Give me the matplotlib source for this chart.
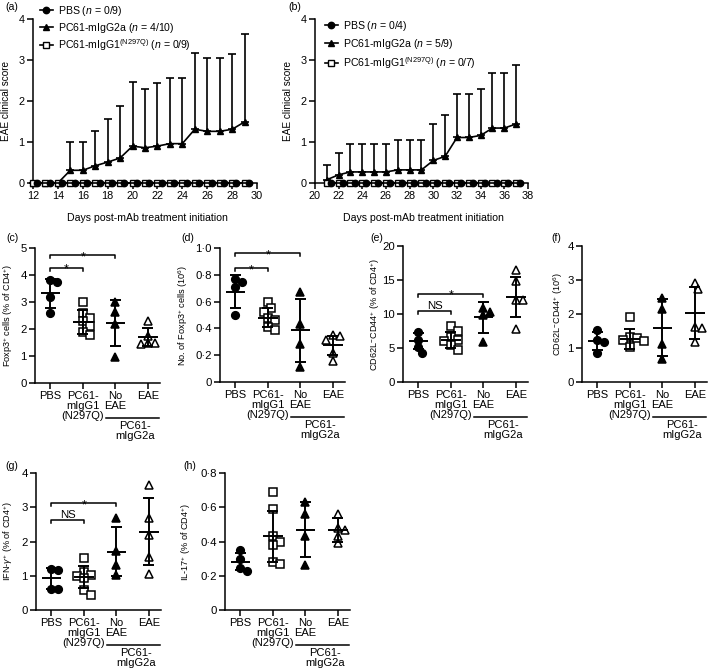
#!/usr/bin/env python3
"""EAE clinical scores and CD4 T-cell read-outs after PC61 antibody treatment."""

import matplotlib
matplotlib.use("Agg")
import matplotlib.pyplot as plt
from matplotlib.lines import Line2D
from matplotlib.ticker import FuncFormatter
import numpy as np

plt.rcParams["font.family"] = ["Liberation Sans", "DejaVu Sans"]
plt.rcParams["mathtext.fontset"] = "custom"
plt.rcParams["mathtext.rm"] = "Liberation Sans"
plt.rcParams["mathtext.it"] = "Liberation Sans:italic"
plt.rcParams["mathtext.bf"] = "Liberation Sans:bold"

# ---------------------------------------------------------------------------
# data
# ---------------------------------------------------------------------------

# (a) EAE course, experiment 1
a_days = list(range(12, 30))
a_pbs = [0, 0, 0, 0, 0, 0, 0, 0, 0, 0, 0, 0, 0, 0, 0, 0, 0, 0]
a_n297q = [0, 0, 0, 0, 0, 0, 0, 0, 0, 0, 0, 0, 0, 0, 0, 0, 0, 0]
a_g2a_mean = [0, 0, 0, 0.31, 0.31, 0.42, 0.51, 0.61, 0.90, 0.86, 0.90, 0.96,
              0.96, 1.31, 1.26, 1.26, 1.31, 1.49]
a_g2a_sd = [0, 0, 0, 0.69, 0.69, 0.84, 1.06, 1.27, 1.57, 1.43, 1.53, 1.61,
            1.61, 1.85, 1.78, 1.78, 1.83, 2.14]
a_labels = ["PBS ($n$ = 0/9)", "PC61-mIgG2a ($n$ = 4/10)",
            "PC61-mIgG1$^{\\mathrm{(N297Q)}}$ ($n$ = 0/9)"]

# (b) EAE course, experiment 2
b_days = list(range(21, 38))
b_pbs = [0, 0, 0, 0, 0, 0, 0, 0, 0, 0, 0, 0, 0, 0, 0, 0, 0]
b_n297q = [0, 0, 0, 0, 0, 0, 0, 0, 0, 0, 0, 0, 0, 0, 0, 0, 0]
b_g2a_mean = [0.08, 0.20, 0.27, 0.27, 0.27, 0.27, 0.32, 0.32, 0.32, 0.55,
              0.65, 1.11, 1.11, 1.16, 1.34, 1.34, 1.44]
b_g2a_sd = [0.37, 0.53, 0.68, 0.68, 0.68, 0.68, 0.72, 0.72, 0.72, 0.89,
            1.01, 1.05, 1.05, 1.13, 1.35, 1.35, 1.44]
b_labels = ["PBS ($n$ = 0/4)", "PC61-mIgG2a ($n$ = 5/9)",
            "PC61-mIgG1$^{\\mathrm{(N297Q)}}$ ($n$ = 0/7)"]

# lower panels: PBS, PC61-mIgG1(N297Q), PC61-mIgG2a no EAE, PC61-mIgG2a EAE
cat_labels = ["PBS", "PC61-\nmIgG1\n(N297Q)", "No\nEAE", "EAE"]
group_label = "PC61-\nmIgG2a"

# (c) Foxp3+ cells (% of CD4+)
c_pbs = [3.75, 3.80, 3.20, 2.60]
c_n297q = [3.00, 2.60, 2.40, 2.30, 2.10, 1.90, 1.78]
c_noeae = [3.00, 2.63, 2.17, 0.98]
c_eae = [2.30, 1.75, 1.50, 1.48, 1.45]
c_mean = [3.33, 2.26, 2.23, 1.71]
c_sd = [0.54, 0.45, 0.86, 0.33]
c_ticks = [0, 1, 2, 3, 4, 5]
c_sig = [(0, 2, 4.73, "*"), (0, 1, 4.27, "*")]

# (d) number of Foxp3+ cells (10^6)
d_pbs = [0.77, 0.75, 0.71, 0.50]
d_n297q = [0.60, 0.555, 0.525, 0.475, 0.46, 0.41, 0.39]
d_noeae = [0.67, 0.43, 0.28, 0.11]
d_eae = [0.35, 0.34, 0.31, 0.22, 0.16]
d_mean = [0.675, 0.48, 0.385, 0.275]
d_sd = [0.12, 0.07, 0.235, 0.07]
d_ticks = [0, 0.2, 0.4, 0.6, 0.8, 1.0]
d_sig = [(0, 2, 0.96, "*"), (0, 1, 0.85, "*")]

# (e) CD62L- CD44+ (% of CD4+)
e_pbs = [7.3, 6.2, 5.1, 4.2]
e_n297q = [8.2, 7.5, 6.6, 6.2, 6.1, 5.4, 4.65]
e_noeae = [10.9, 10.3, 9.9, 5.9]
e_eae = [16.4, 14.9, 12.0, 12.0, 7.8]
e_mean = [6.0, 6.2, 9.5, 12.5]
e_sd = [1.2, 1.15, 2.3, 2.9]
e_ticks = [0, 5, 10, 15, 20]
e_sig = [(0, 2, 13.0, "*"), (0, 1, 10.5, "NS")]

# (f) CD62L- CD44+ (10^6)
f_pbs = [1.52, 1.25, 1.18, 0.84]
f_n297q = [1.90, 1.32, 1.28, 1.25, 1.20, 1.02]
f_noeae = [2.46, 2.16, 1.13, 0.69]
f_eae = [2.92, 2.75, 1.62, 1.60, 1.18]
f_mean = [1.20, 1.27, 1.60, 2.03]
f_sd = [0.27, 0.30, 0.83, 0.77]
f_ticks = [0, 1, 2, 3, 4]

# (g) IFN-gamma+ (% of CD4+)
g_pbs = [1.20, 1.18, 0.62, 0.60]
g_n297q = [1.53, 1.12, 1.02, 1.00, 0.93, 0.59, 0.44]
g_noeae = [2.70, 1.72, 1.30, 1.02]
g_eae = [3.66, 2.68, 2.20, 1.56, 1.05]
g_mean = [0.92, 0.96, 1.70, 2.29]
g_sd = [0.30, 0.33, 0.72, 0.98]
g_ticks = [0, 1, 2, 3, 4]
g_sig = [(0, 2, 3.12, "*"), (0, 1, 2.63, "NS")]

# (h) IL-17+ (% of CD4+)
h_pbs = [0.35, 0.30, 0.245, 0.23]
h_n297q = [0.69, 0.59, 0.43, 0.40, 0.38, 0.28, 0.27]
h_noeae = [0.63, 0.56, 0.43, 0.26]
h_eae = [0.56, 0.48, 0.47, 0.43, 0.39]
h_mean = [0.283, 0.43, 0.47, 0.465]
h_sd = [0.048, 0.15, 0.16, 0.07]
h_ticks = [0, 0.2, 0.4, 0.6, 0.8]

# ---------------------------------------------------------------------------
# layout helpers (pixel boxes on a 709 x 672 canvas)
# ---------------------------------------------------------------------------

W, H = 709, 672
fig = plt.figure(figsize=(W / 100, H / 100), dpi=100)

LW = 1.1
CAT_PX = 32.5          # pixels per category in the dot plots
XLIM = (-0.47, 3.38)


def add_box(left, top, right, bottom):
    ax = fig.add_axes([left / W, 1 - bottom / H, (right - left) / W, (bottom - top) / H])
    for side in ("top", "right"):
        ax.spines[side].set_visible(False)
    for side in ("left", "bottom"):
        ax.spines[side].set_linewidth(LW)
    ax.tick_params(length=4, width=LW, direction="out", pad=2)
    return ax


def mid_dot(v, _pos):
    return "0" if v == 0 else f"{v:.1f}".replace(".", "\u00b7")


def swarm(vals, ppu_y, diam=7.0):
    """Spread overlapping points sideways (pixel space), returned in category units."""
    vals = np.asarray(vals, dtype=float)
    offs = np.zeros(len(vals))
    placed = []
    for idx in np.argsort(-vals):
        y = vals[idx] * ppu_y
        for k in (0, 0.5, -0.5, 1, -1, 1.5, -1.5, 2, -2):
            x = k * diam
            if all((x - px) ** 2 + (y - py) ** 2 >= (0.92 * diam) ** 2 for px, py in placed):
                break
        placed.append((x, y))
        offs[idx] = x / CAT_PX
    return offs


def score_panel(box, days, pbs, n297q, g_mean, g_sd, labels, xmax, leg_xy, spacing, ylab_x):
    ax = add_box(*box)
    days = np.asarray(days, dtype=float)
    ax.errorbar(days, g_mean, yerr=[np.zeros(len(g_sd)), g_sd], fmt="^-", color="k",
                ms=4.6, lw=1.2, elinewidth=1.2, capsize=3, capthick=1.2,
                clip_on=False, zorder=2)
    ax.plot(days, n297q, "s-", color="k", mfc="white", ms=4.3, mew=1.0, lw=1.2,
            clip_on=False, zorder=3)
    ax.plot(days + 0.35, pbs, "o-", color="k", ms=4.6, lw=1.2, clip_on=False, zorder=4)
    ax.set_xlim(xmax - 18, xmax)
    ax.set_ylim(0, 4)
    ax.set_xticks(np.arange(xmax - 18, xmax + 1, 2))
    ax.set_yticks(range(5))
    ax.tick_params(labelsize=7.8)
    ax.set_ylabel("EAE clinical score", fontsize=7.2)
    ax.yaxis.set_label_coords(ylab_x, 0.5)
    ax.set_xlabel("Days post-mAb treatment initiation", fontsize=7.6)
    ax.xaxis.set_label_coords(0.51, -0.185)
    handles = [Line2D([], [], color="k", marker="o", ms=4.6, lw=1.2),
               Line2D([], [], color="k", marker="^", ms=4.6, lw=1.2),
               Line2D([], [], color="k", marker="s", mfc="white", ms=4.3, lw=1.2)]
    ax.legend(handles, labels, loc="upper left", frameon=False, fontsize=7.6,
              bbox_to_anchor=(leg_xy[0] / W, 1 - leg_xy[1] / H),
              bbox_transform=fig.transFigure, borderpad=0, borderaxespad=0,
              handlelength=1.2, handletextpad=0.5, labelspacing=spacing)
    return ax


STYLES = [dict(marker="o", mfc="k", ms=5.5),
          dict(marker="s", mfc="white", ms=5.5),
          dict(marker="^", mfc="k", ms=6.2),
          dict(marker="^", mfc="white", ms=6.2)]


def dot_panel(left, top, bottom, groups, means, sds, yticks, ylabel, ylab_x,
              sig=(), dotted=False):
    right = left + CAT_PX * (XLIM[1] - XLIM[0])
    ax = add_box(left, top, right, bottom)
    ymax = yticks[-1]
    h_px = bottom - top
    ppu_y = h_px / ymax
    for i, vals in enumerate(groups):
        offs = swarm(vals, ppu_y)
        ax.plot(i + offs, vals, ls="none", color="k", mec="k", mew=1.1,
                clip_on=False, zorder=3, **STYLES[i])
        m, s = means[i], sds[i]
        kw = dict(color="k", lw=1.4, zorder=4, solid_capstyle="butt", clip_on=False)
        ax.plot([i - 0.3, i + 0.3], [m, m], **kw)
        ax.plot([i, i], [m - s, m + s], **kw)
        for y in (m - s, m + s):
            ax.plot([i - 0.17, i + 0.17], [y, y], **kw)
    tick_px = 3.0 / ppu_y
    for x0, x1, y, txt in sig:
        ax.plot([x0, x0, x1, x1], [y - tick_px, y, y, y - tick_px], color="k",
                lw=1.1, clip_on=False, zorder=4)
        if txt == "*":
            ax.annotate(txt, ((x0 + x1) / 2, y), xytext=(0, -3.5), textcoords="offset points",
                        ha="center", va="baseline", fontsize=9)
        else:
            ax.annotate(txt, ((x0 + x1) / 2, y), xytext=(0, 1.5), textcoords="offset points",
                        ha="center", va="baseline", fontsize=8.2)
    ax.set_xlim(*XLIM)
    ax.set_ylim(0, ymax)
    ax.set_yticks(yticks)
    if dotted:
        ax.yaxis.set_major_formatter(FuncFormatter(mid_dot))
    ax.set_xticks(range(4))
    ax.set_xticklabels(cat_labels, fontsize=8, va="top")
    for lbl in ax.get_xticklabels():
        lbl.set_linespacing(1.0)
    ax.tick_params(axis="y", labelsize=8.2)
    ax.set_ylabel(ylabel, fontsize=6.6)
    ax.yaxis.set_label_coords(ylab_x, 0.5)
    trans = ax.get_xaxis_transform()
    ax.plot([1.7, 3.35], [-35 / h_px] * 2, color="k", lw=1.1, transform=trans, clip_on=False)
    ax.text(2.6, -38 / h_px, group_label, transform=trans, ha="center", va="top",
            fontsize=8, linespacing=1.0)
    return ax


# ---------------------------------------------------------------------------
# panels
# ---------------------------------------------------------------------------

score_panel((33, 19, 257, 183), a_days, a_pbs, a_n297q, a_g2a_mean, a_g2a_sd,
            a_labels, 30, (40, 4), 0.25, -0.098)
score_panel((315, 19, 528, 183), b_days, b_pbs, b_n297q, b_g2a_mean, b_g2a_sd,
            b_labels, 38, (325, 19), 0.38, -0.103)

dot_panel(35, 248, 383, [c_pbs, c_n297q, c_noeae, c_eae], c_mean, c_sd, c_ticks,
          "Foxp3$^{+}$ cells (% of CD4$^{+}$)", -0.16, c_sig)
dot_panel(220, 248, 382, [d_pbs, d_n297q, d_noeae, d_eae], d_mean, d_sd, d_ticks,
          "No. of Foxp3$^{+}$ cells (10$^{6}$)", -0.24, d_sig, dotted=True)
dot_panel(403, 246, 382, [e_pbs, e_n297q, e_noeae, e_eae], e_mean, e_sd, e_ticks,
          "CD62L$^{-}$CD44$^{+}$ (% of CD4$^{+}$)", -0.168, e_sig)
dot_panel(582, 246, 382, [f_pbs, f_n297q, f_noeae, f_eae], f_mean, f_sd, f_ticks,
          "CD62L$^{-}$CD44$^{+}$ (10$^{6}$)", -0.136)
dot_panel(36, 473, 610, [g_pbs, g_n297q, g_noeae, g_eae], g_mean, g_sd, g_ticks,
          "IFN-$\\gamma^{+}$ (% of CD4$^{+}$)", -0.168, g_sig)
dot_panel(225, 473, 610, [h_pbs, h_n297q, h_noeae, h_eae], h_mean, h_sd, h_ticks,
          "IL-17$^{+}$ (% of CD4$^{+}$)", -0.256, dotted=True)

for txt, x, y in [("(a)", 12, 7), ("(b)", 295, 7), ("(c)", 12, 238), ("(d)", 188, 238),
                  ("(e)", 377, 238), ("(f)", 556, 238), ("(g)", 12, 466), ("(h)", 190, 466)]:
    fig.text(x / W, 1 - y / H, txt, fontsize=7.6, ha="center", va="center")

fig.savefig("out.png", dpi=100)
plt.close(fig)
